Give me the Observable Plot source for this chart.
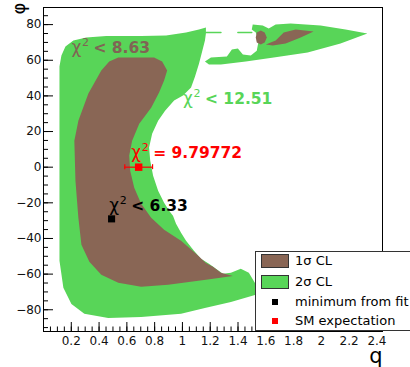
<!DOCTYPE html>
<html><head><meta charset="utf-8">
<script src="https://cdn.jsdelivr.net/npm/d3@7"></script>
<script src="https://cdn.jsdelivr.net/npm/@observablehq/plot@0.6"></script>
<style>
body{margin:0;background:#fff;overflow:hidden;font-family:"DejaVu Sans",sans-serif}
#wrap{position:relative;width:410px;height:367px;overflow:hidden}
#legend{position:absolute;left:255px;top:251px;width:200px;height:80px;border:1px solid #333;background:#fff;box-sizing:border-box;font-size:13px;color:#000}
#legend .sw{position:absolute;left:5px;width:28px;height:14px;box-sizing:border-box;border:1px solid #333}
#legend .mk{position:absolute;left:16px;width:6px;height:6px}
#legend .tx{position:absolute;left:39px;height:16px;line-height:16px;white-space:nowrap}
</style></head>
<body><div id="wrap"><div id="chart"></div>
<div id="legend"></div></div>
<script>
// ---- data (q, phi) ----
const green2sigMain = [
 [0.115,56.5],[0.129,62.6],[0.158,67.7],[0.215,71.1],[0.308,72.8],[0.452,73.6],[0.703,73.6],
 [0.882,73.9],[1.026,75.6],[1.119,77.2],[1.169,78.4],[1.169,75.0],[1.162,71.1],[1.140,64.3],
 [1.119,58.1],[1.090,50.8],[1.062,44.7],[1.004,40.2],[0.940,37.4],[0.875,31.7],[0.825,26.1],
 [0.782,18.8],[0.760,11.0],[0.768,3.7],[0.789,-4.8],[0.825,-13.2],[0.868,-20.0],[0.904,-24.4],
 [0.932,-27.2],[0.954,-31.7],[0.990,-36.8],[1.026,-41.3],[1.083,-46.9],[1.133,-51.4],
 [1.191,-54.2],[1.241,-57.0],[1.291,-59.8],[1.349,-59.3],[1.420,-57.0],[1.478,-59.3],
 [1.521,-64.9],[1.578,-69.4],[1.578,-71.1],[1.528,-71.6],[1.349,-75.6],[1.169,-78.9],
 [0.990,-82.3],[0.703,-84.0],[0.466,-84.6],[0.294,-82.3],[0.201,-76.7],[0.143,-67.7],
 [0.115,-52.5],[0.115,-18.8],[0.115,26.1]
];
const green2sigIsland = [
 [1.162,59.3],[1.205,61.5],[1.320,62.1],[1.356,66.0],[1.399,66.6],[1.435,63.2],[1.492,62.6],
 [1.535,65.4],[1.549,71.1],[1.528,75.6],[1.499,77.2],[1.506,80.1],[1.578,79.5],[1.621,77.8],
 [1.671,80.1],[1.779,80.6],[1.994,79.5],[2.174,77.2],[2.331,75.0],[2.138,69.4],[1.901,64.3],
 [1.657,61.5],[1.456,59.3],[1.277,57.6],[1.191,57.6]
];
const green2sigThinA = [[1.169,75.6],[1.277,75.6]];
const green2sigThinB = [[1.399,75.6],[1.499,75.6]];
const brown1sigMain = [
 [0.538,61.5],[0.796,61.5],[0.854,59.3],[0.890,54.2],[0.868,48.6],[0.832,41.9],[0.775,33.4],
 [0.689,24.4],[0.638,14.9],[0.617,6.5],[0.624,-2.0],[0.653,-11.5],[0.703,-20.5],[0.775,-28.4],
 [0.868,-35.1],[0.990,-41.3],[1.098,-48.6],[1.169,-53.7],[1.220,-55.9],[1.277,-59.3],
 [1.363,-61.0],[1.169,-63.2],[0.897,-66.0],[0.703,-67.1],[0.538,-64.9],[0.416,-60.4],
 [0.330,-53.1],[0.273,-43.5],[0.251,-28.4],[0.230,-7.6],[0.222,14.9],[0.251,26.1],
 [0.323,41.3],[0.416,54.2],[0.473,59.3]
];
const brown1sigBlob = [[1.528,72.8],[1.535,75.6],[1.564,76.7],[1.592,75.6],[1.607,72.8],[1.592,69.9],[1.564,68.8],[1.535,69.9]];
const brown1sigStreak = [[1.600,68.8],[1.671,71.1],[1.729,75.6],[1.815,77.2],[1.944,76.1],[1.851,72.8],[1.743,69.4],[1.650,68.3]];

const fitMin = [{q:0.49, phi:-29}];
const smExp = [{q:0.685, phi:0, qErr:0.10}];

const annText  = ["< 8.63", "< 12.51", "= 9.79772", "< 6.33"];
const annQ     = [0.201, 1.004, 0.631, 0.473];
const annPhi   = [63.8, 35.7, 5.3, -24.4];
const annColor = ["#806454", "#58D558", "#FF0000", "#000000"];

const xMajor = [0.2,0.4,0.6,0.8,1,1.2,1.4,1.6,1.8,2,2.2,2.4];
const yMajor = [-80,-60,-40,-20,0,20,40,60,80];
const xMinor = d3.range(0, 2.44, 0.05);
const yMinor = d3.range(-90, 90, 5);

const legendLabels = ["1σ CL", "2σ CL", "minimum from fit", "SM expectation"];

// ---- drawing ----
const GREEN = "#58D558", BROWN = "#896655";
const W = 410, H = 367, mL = 43, mR = 28, mT = 7, mB = 36;
const pw = W - mL - mR, ph = H - mT - mB;
const ann = annText.map((t,i)=>({t, q:annQ[i], phi:annPhi[i], c:annColor[i]}));
const poly = (data, fill) => Plot.line(data, {x: d=>d[0], y: d=>d[1], fill, stroke: null, curve: "linear-closed"});

const chart = Plot.plot({
  width: W, height: H, marginLeft: mL, marginRight: mR, marginTop: mT, marginBottom: mB,
  style: {fontFamily: "DejaVu Sans, sans-serif", background: "white"},
  x: {domain: [0, 2.44]},
  y: {domain: [-92.2, 89.6]},
  marks: [
    poly(green2sigMain, GREEN),
    poly(green2sigIsland, GREEN),
    Plot.line(green2sigThinA, {x: d=>d[0], y: d=>d[1], stroke: GREEN, strokeWidth: 1.5}),
    Plot.line(green2sigThinB, {x: d=>d[0], y: d=>d[1], stroke: GREEN, strokeWidth: 1.5}),
    poly(brown1sigMain, BROWN),
    poly(brown1sigBlob, BROWN),
    poly(brown1sigStreak, BROWN),
    // annotations
    Plot.text(ann, {x: "q", y: "phi", text: () => "χ", fill: "c", fontSize: 17, textAnchor: "start", lineAnchor: "bottom"}),
    Plot.text(ann, {x: "q", y: "phi", text: () => "2", fill: "c", fontSize: 11, textAnchor: "start", lineAnchor: "bottom", dx: 10.5, dy: -7}),
    Plot.text(ann, {x: "q", y: "phi", text: "t", fill: "c", fontSize: 15.5, fontWeight: "bold", textAnchor: "start", lineAnchor: "bottom", dx: 22}),
    // markers
    Plot.ruleY(smExp, {y: "phi", x1: d=>d.q-d.qErr, x2: d=>d.q+d.qErr, stroke: "#FF0000", strokeWidth: 1.2}),
    Plot.ruleX(smExp, {x: d=>d.q-d.qErr, y1: d=>d.phi-1.4, y2: d=>d.phi+1.4, stroke: "#FF0000", strokeWidth: 1.2}),
    Plot.ruleX(smExp, {x: d=>d.q+d.qErr, y1: d=>d.phi-1.4, y2: d=>d.phi+1.4, stroke: "#FF0000", strokeWidth: 1.2}),
    Plot.dot(smExp, {x: "q", y: "phi", symbol: "square", r: 4.2, fill: "#FF0000", stroke: null}),
    Plot.dot(fitMin, {x: "q", y: "phi", symbol: "square", r: 4, fill: "#000", stroke: null}),
    // ticks (inside, ROOT style)
    Plot.tickY(yMinor, {y: d=>d, insetRight: pw - 5, stroke: "#000"}),
    Plot.tickY(yMajor, {y: d=>d, insetRight: pw - 10, stroke: "#000"}),
    Plot.tickX(xMinor, {x: d=>d, insetTop: ph - 4.5, stroke: "#000"}),
    Plot.tickX(xMajor, {x: d=>d, insetTop: ph - 9, stroke: "#000"}),
    Plot.axisX(xMajor, {tickSize: 0, tickPadding: 5, fontSize: 12, fill: "#111", tickFormat: d => String(+d.toFixed(2)), label: null}),
    Plot.axisY(yMajor, {tickSize: 0, tickPadding: 2, fontSize: 12, fill: "#111", label: null}),
    Plot.frame({stroke: "#000", strokeWidth: 1}),
    Plot.text(["φ"], {frameAnchor: "top-left", dx: -31, dy: 7, rotate: -90, fontSize: 18, fill: "#000"}),
    Plot.text(["q"], {frameAnchor: "bottom-right", dy: 17, fontSize: 21, textAnchor: "end", lineAnchor: "top", fill: "#000"})
  ]
});
document.getElementById("chart").appendChild(chart);

// legend
const lg = document.getElementById("legend");
const legendStyle = [
  {kind: "sw", color: BROWN, top: 2},
  {kind: "sw", color: GREEN, top: 23},
  {kind: "mk", color: "#000", top: 47},
  {kind: "mk", color: "#FF0000", top: 66}
];
const textTops = [1, 22, 42, 61];
legendLabels.forEach((lab, i) => {
  const s = document.createElement("div");
  s.className = legendStyle[i].kind;
  s.style.background = legendStyle[i].color;
  s.style.top = legendStyle[i].top + "px";
  lg.appendChild(s);
  const t = document.createElement("div");
  t.className = "tx";
  t.style.top = textTops[i] + "px";
  t.textContent = lab;
  lg.appendChild(t);
});
</script>
</body></html>
